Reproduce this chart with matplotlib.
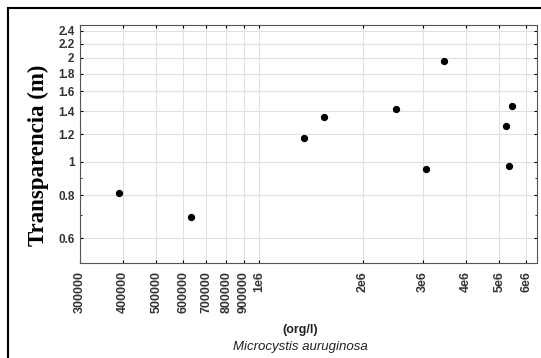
import numpy as np
import matplotlib.pyplot as plt
from matplotlib.ticker import FixedLocator, FixedFormatter, NullFormatter
from matplotlib.patches import Rectangle

# data
cells = [390000, 631000, 1350000, 1540000, 2500000, 3050000, 3440000, 5230000, 5450000, 5340000]
transp = [0.813, 0.693, 1.174, 1.35, 1.42, 0.955, 1.96, 1.27, 1.45, 0.97]

xticks = [300000, 400000, 500000, 600000, 700000, 800000, 900000, 1e6, 2e6, 3e6, 4e6, 5e6, 6e6]
xlabels = ['300000', '400000', '500000', '600000', '700000', '800000', '900000', '1e6',
           '2e6', '3e6', '4e6', '5e6', '6e6']
yticks = [0.6, 0.8, 1, 1.2, 1.4, 1.6, 1.8, 2, 2.2, 2.4]
ylabels = ['0.6', '0.8', '1', '1.2', '1.4', '1.6', '1.8', '2', '2.2', '2.4']

plt.rcParams['font.family'] = ['Liberation Sans', 'DejaVu Sans']

fig = plt.figure(figsize=(5.41, 3.58), dpi=100)
ax = fig.add_axes([80/541, 1 - 263/358, (537-80)/541, (263-25)/358])

ax.scatter(cells, transp, s=18, color='black', zorder=3)

ax.set_xscale('log')
ax.set_yscale('log')
ax.set_xlim(2.999e5, 6.44e6)
ax.set_ylim(0.509, 2.49)

ax.xaxis.set_major_locator(FixedLocator(xticks))
ax.xaxis.set_major_formatter(FixedFormatter(xlabels))
ax.xaxis.set_minor_formatter(NullFormatter())
ax.yaxis.set_major_locator(FixedLocator(yticks))
ax.yaxis.set_major_formatter(FixedFormatter(ylabels))
ax.yaxis.set_minor_formatter(NullFormatter())

ax.grid(True, which='major', color='#e0e0e0', linewidth=0.8)
ax.tick_params(axis='x', which='major', labelrotation=90, labelsize=9, length=2,
               direction='in', top=True, pad=6)
ax.tick_params(axis='y', which='major', labelsize=8.5, length=2, direction='in',
               right=True, pad=4)
ax.tick_params(which='minor', length=1.5, direction='in', top=True, right=True)
for lab in ax.get_xticklabels() + ax.get_yticklabels():
    lab.set_fontweight('bold')
    lab.set_color('#333333')
for s in ax.spines.values():
    s.set_color('#555555')
    s.set_linewidth(0.8)

ax.set_ylabel('Transparencia (m)', fontfamily='Liberation Serif', fontweight='bold',
              fontsize=16.5)
ax.yaxis.set_label_coords(-0.068, 0.454)
fig.text(0.555, 1 - 330/358, '(org/l)', ha='center', va='center', fontsize=9,
         fontweight='bold', color='#222222')
fig.text(0.555, 1 - 347/358, 'Microcystis auruginosa', ha='center', va='center',
         fontsize=9.5, fontstyle='italic', color='#222222')

# outer frame (cut off at right and bottom)
fig.patches.append(Rectangle((8/541, -0.1), 1.1, 1 - 8/358 + 0.1, transform=fig.transFigure,
                             fill=False, edgecolor='black', linewidth=1.5))

fig.savefig('out.png', dpi=100)
